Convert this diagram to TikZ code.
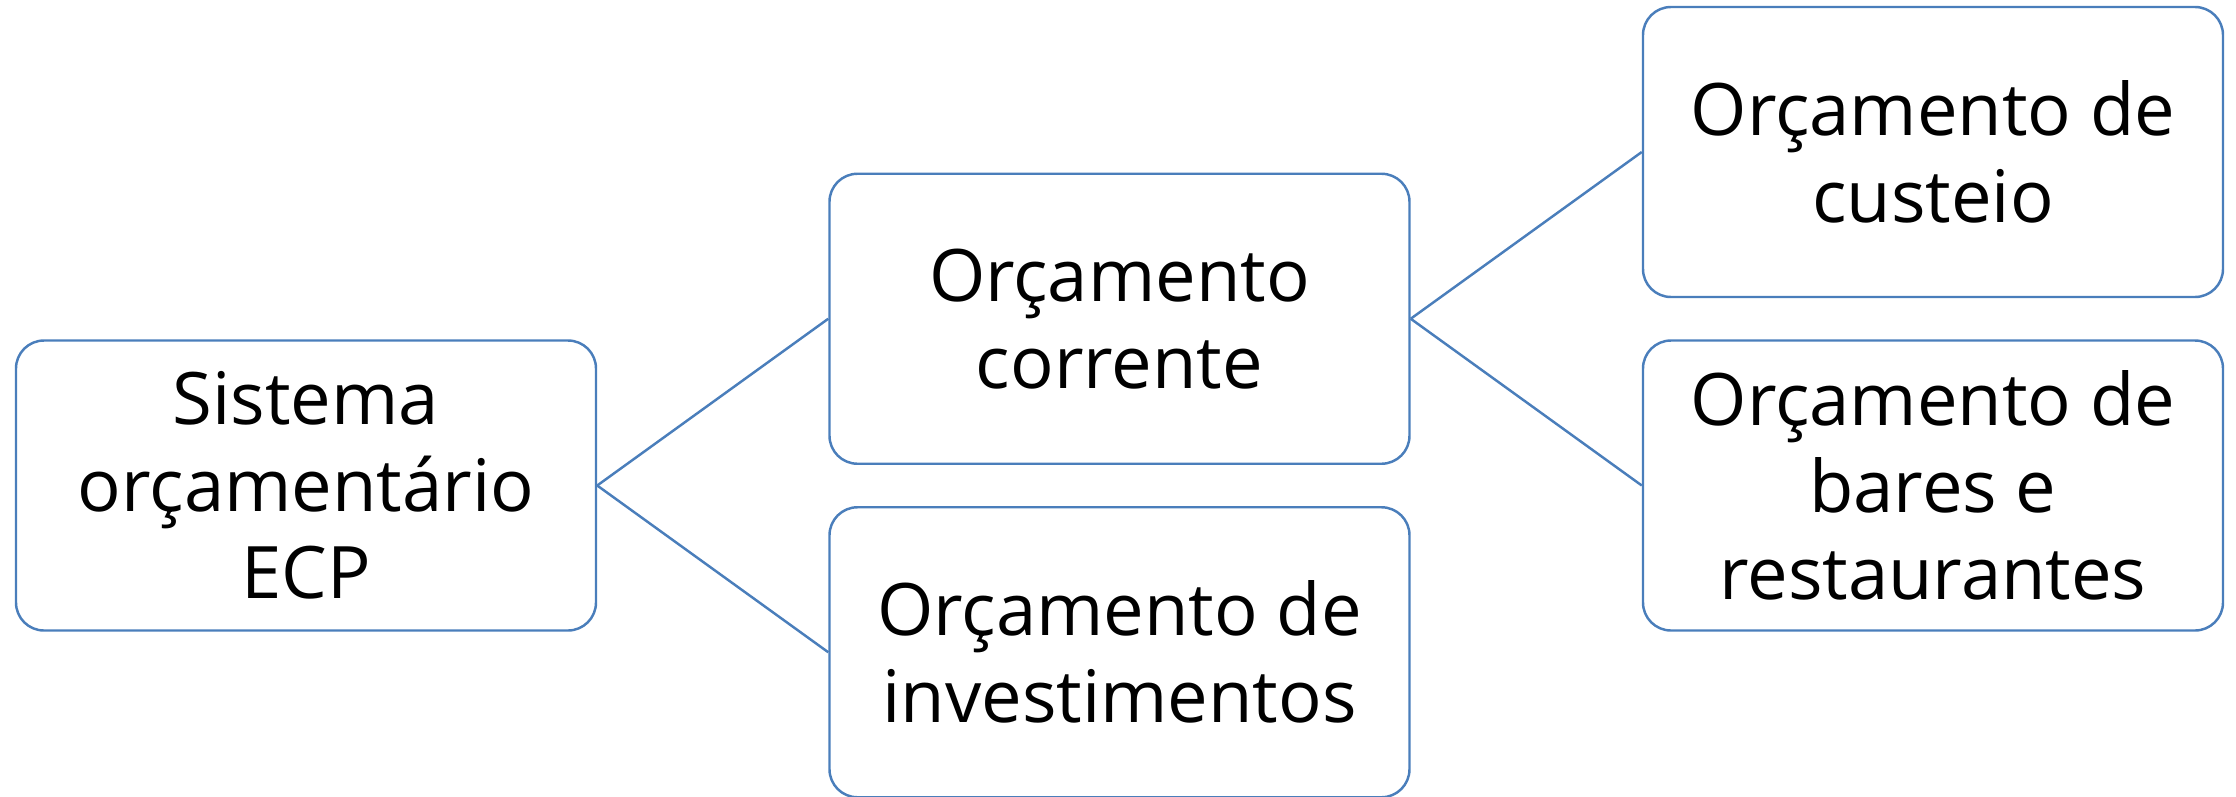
\documentclass[tikz,border=0pt]{standalone}
\usepackage{fontspec}
\setmainfont{Open Sans}
\usepackage{tikz}
\definecolor{boxblue}{RGB}{74,126,187}
\tikzset{
  budget/.style={draw=boxblue, line width=0.7pt, rounded corners=0.28cm,
    minimum width=5.8cm, minimum height=2.9cm, align=center,
    font=\fontsize{20.6}{24.8}\selectfont},
  link/.style={draw=boxblue, line width=0.7pt}
}
\begin{document}
\begin{tikzpicture}
  \def\xsep{8.135cm}
  \def\ysep{3.335cm}

  \useasboundingbox (-3.06, 4.855) rectangle (19.30, -3.105);

  \node[budget] (sys)  at (0, 0) {Sistema\\orçamentário\\ECP};
  \node[budget] (corr) at ({1*\xsep}, {0.5*\ysep}) {Orçamento\\corrente};
  \node[budget] (inv)  at ({1*\xsep}, {-0.5*\ysep}) {Orçamento de\\investimentos};
  \node[budget] (cust) at ({2*\xsep}, {1*\ysep}) {Orçamento de\\custeio};
  \node[budget] (bar)  at ({2*\xsep}, 0) {Orçamento de\\bares e\\restaurantes};

  \draw[link] (sys.east) -- (corr.west);
  \draw[link] (sys.east) -- (inv.west);

  \draw[link] (corr.east) -- (cust.west);
  \draw[link] (corr.east) -- (bar.west);
\end{tikzpicture}
\end{document}
